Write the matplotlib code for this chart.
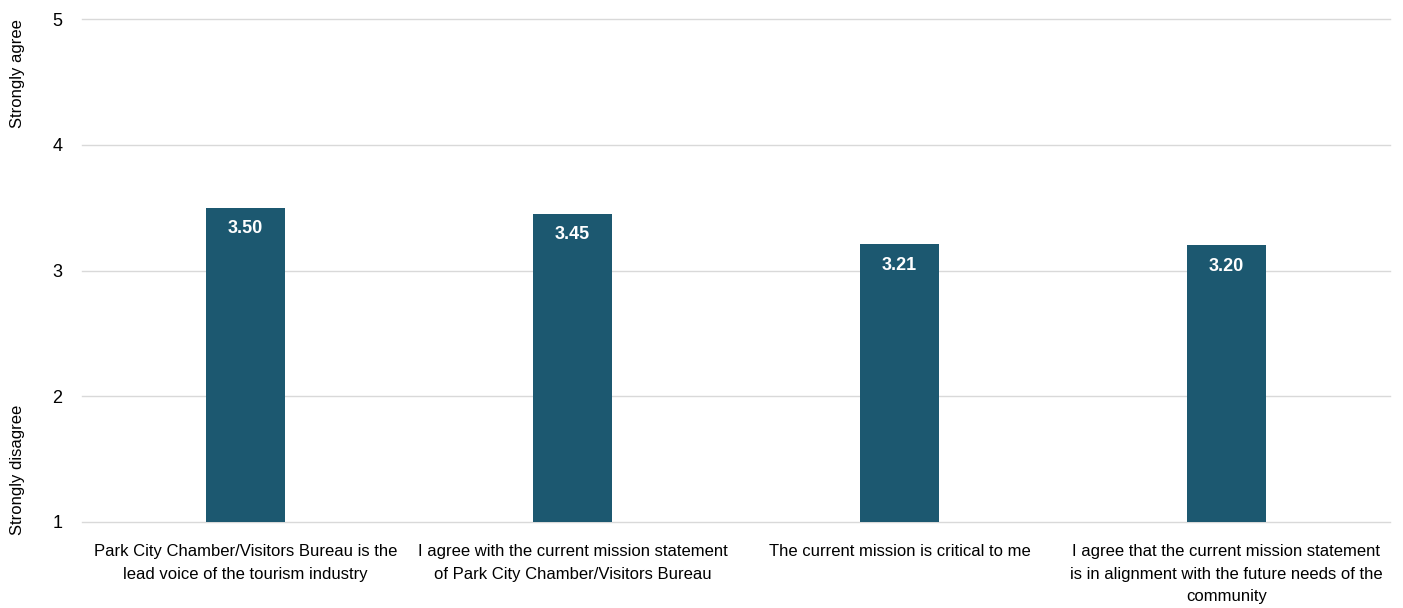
import matplotlib.pyplot as plt
import numpy as np

plt.rcParams['font.family'] = ['Liberation Sans Narrow', 'Liberation Sans', 'DejaVu Sans']

categories = [
    "Park City Chamber/Visitors Bureau is the\nlead voice of the tourism industry",
    "I agree with the current mission statement\nof Park City Chamber/Visitors Bureau",
    "The current mission is critical to me",
    "I agree that the current mission statement\nis in alignment with the future needs of the\ncommunity",
]
values = [3.50, 3.45, 3.21, 3.20]

bar_color = '#1C5870'
grid_color = '#D9D9D9'

fig = plt.figure(figsize=(14.03, 6.08), dpi=100)
ax = fig.add_axes([82 / 1403, 1 - 522 / 608, 1308 / 1403, 503 / 608])

x = np.arange(len(categories))
ax.bar(x, values, width=0.24, color=bar_color, zorder=3)

for xi, v in zip(x, values):
    ax.text(xi, v - 0.1, "%.2f" % v, ha='center', va='top', color='white',
            fontsize=13, fontweight='bold', zorder=4)

ax.set_xlim(-0.5, len(categories) - 0.5)
ax.set_ylim(1, 5)
ax.set_yticks([1, 2, 3, 4, 5])
ax.yaxis.grid(True, color=grid_color, linewidth=1, zorder=0)
for gl in ax.get_ygridlines():
    gl.set_clip_on(False)
ax.set_xticks(x)
ax.set_xticklabels(categories, fontsize=12, linespacing=1.62)
ax.tick_params(axis='y', labelsize=13, length=0, pad=14)
ax.tick_params(axis='x', length=0, pad=16)
for s in ax.spines.values():
    s.set_visible(False)

fig.text(18 / 1403, 1 - 74 / 608, "Strongly agree", rotation=90, ha='center', va='center', fontsize=12)
fig.text(18 / 1403, 1 - 470 / 608, "Strongly disagree", rotation=90, ha='center', va='center', fontsize=12)

fig.savefig("out.png", dpi=100)
